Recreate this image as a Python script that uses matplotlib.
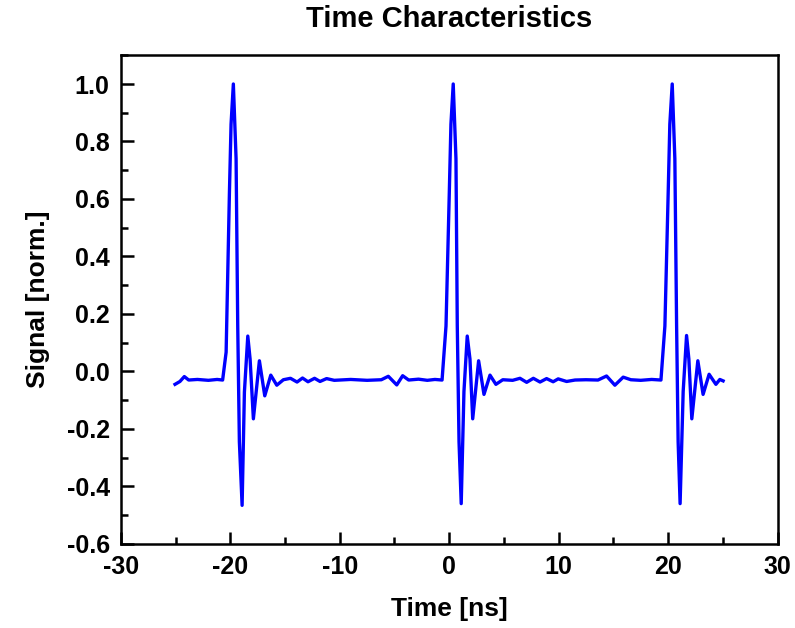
import numpy as np
import matplotlib.pyplot as plt
from matplotlib.ticker import MultipleLocator

plt.rcParams['font.family'] = ['Liberation Sans', 'DejaVu Sans']
plt.rcParams['font.weight'] = 'bold'
plt.rcParams['axes.unicode_minus'] = False

# Trace: time [ns] and normalised signal
time_ns = [
    -25.05, -24.6, -24.2, -23.8, -23.0, -22.0, -21.2, -20.7,
    -20.38, -20.08, -19.93, -19.72, -19.47, -19.32, -19.17, -18.92,
    -18.71, -18.4, -18.19, -17.89, -17.34, -16.85, -16.3, -15.75,
    -15.15, -14.5, -13.9, -13.4, -12.9, -12.3, -11.8, -11.2,
    -10.5, -9.0, -7.5, -6.2, -5.56, -4.79, -4.25, -3.7,
    -2.8, -2.0, -1.3, -0.65,
    -0.29, 0.01, 0.16, 0.37, 0.62, 0.74, 0.9, 1.1,
    1.35, 1.65, 1.9, 2.15, 2.69, 3.18, 3.73, 4.27,
    4.9, 5.8, 6.47, 7.08, 7.69, 8.3, 8.9, 9.5,
    9.96, 10.73, 11.5, 12.5, 13.6, 14.38, 15.14, 15.9,
    16.6, 17.5, 18.5, 19.35,
    19.71, 20.01, 20.16, 20.38, 20.62, 20.78, 20.92, 21.1,
    21.38, 21.69, 21.9, 22.17, 22.72, 23.2, 23.75, 24.37,
    24.73, 25.03,
]
signal = [
    -0.045, -0.035, -0.018, -0.030, -0.028, -0.031, -0.028, -0.030,
    0.067, 0.62, 0.86, 1.0, 0.74, 0.16, -0.245, -0.466,
    -0.072, 0.123, 0.043, -0.165, 0.037, -0.085, -0.013, -0.048,
    -0.029, -0.024, -0.037, -0.023, -0.036, -0.024, -0.035, -0.025,
    -0.031, -0.028, -0.031, -0.029, -0.017, -0.047, -0.015, -0.030,
    -0.027, -0.031, -0.028, -0.030,
    0.158, 0.62, 0.86, 1.0, 0.74, 0.16, -0.245, -0.46,
    -0.07, 0.123, 0.043, -0.165, 0.037, -0.08, -0.013, -0.045,
    -0.029, -0.031, -0.024, -0.038, -0.024, -0.037, -0.025, -0.036,
    -0.026, -0.035, -0.030, -0.029, -0.030, -0.016, -0.048, -0.020,
    -0.029, -0.031, -0.028, -0.030,
    0.158, 0.62, 0.86, 1.0, 0.74, 0.16, -0.245, -0.46,
    -0.07, 0.125, 0.043, -0.165, 0.037, -0.08, -0.01, -0.045,
    -0.028, -0.033,
]

fig = plt.figure(figsize=(7.95, 6.28), dpi=100)
ax = fig.add_axes([0.152, 0.134, 0.826, 0.778])

ax.plot(time_ns, signal, color='#0000ff', linewidth=2.4)

ax.set_xlim(-30, 30)
ax.set_ylim(-0.6, 1.1)
ax.xaxis.set_major_locator(MultipleLocator(10))
ax.xaxis.set_minor_locator(MultipleLocator(5))
ax.yaxis.set_minor_locator(MultipleLocator(0.1))
yt = np.arange(-0.6, 1.01, 0.2)
ax.set_yticks(yt)
ax.set_yticklabels(['%.1f' % v for v in yt])

ax.tick_params(which='both', direction='in', top=False, right=False,
               width=1.8, labelsize=18, pad=8)
ax.tick_params(which='major', length=9)
ax.tick_params(which='minor', length=5)
for s in ax.spines.values():
    s.set_linewidth(1.8)

ax.set_xlabel('Time [ns]', fontsize=19, fontweight='bold', labelpad=13)
ax.set_ylabel('Signal [norm.]', fontsize=19, fontweight='bold', labelpad=12)
ax.set_title('Time Characteristics', fontsize=21, fontweight='bold', pad=20)

fig.savefig('out.png', dpi=100)
